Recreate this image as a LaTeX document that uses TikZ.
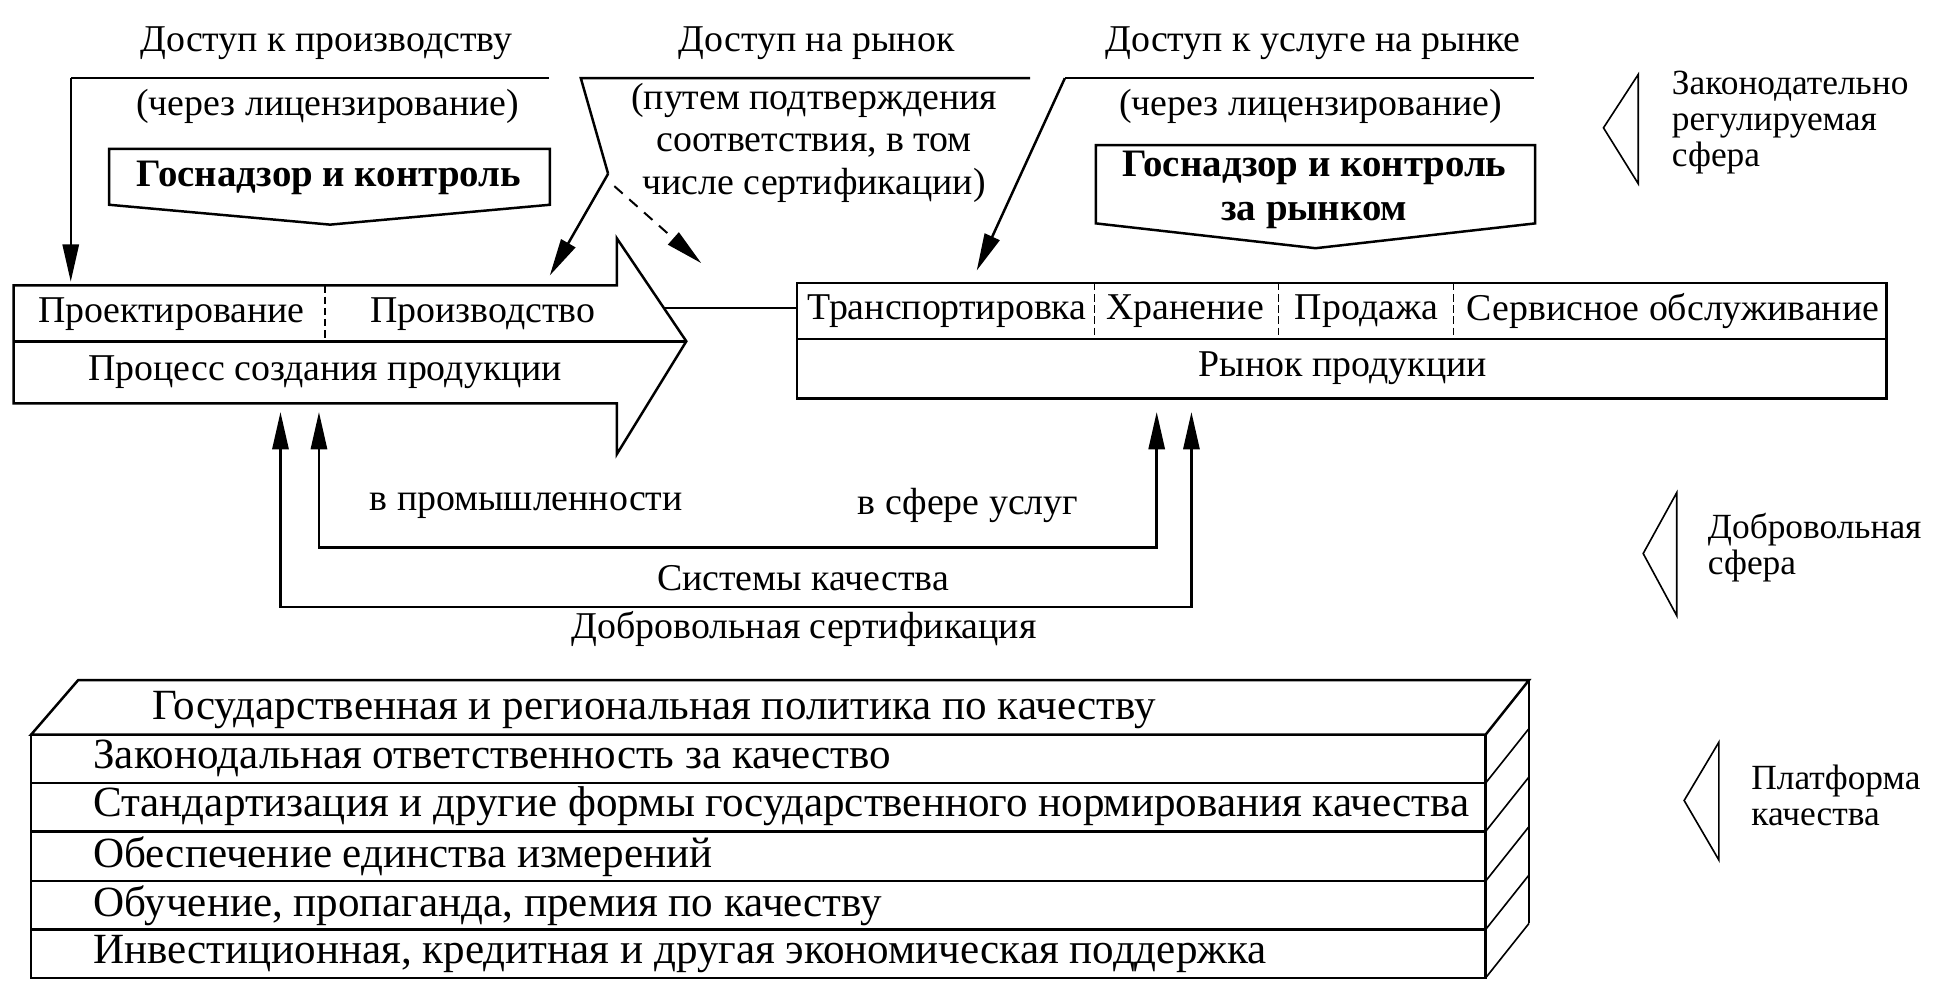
\documentclass[tikz,border=0pt]{standalone}
\usepackage{fontspec}
\setmainfont{Liberation Serif}
\usetikzlibrary{arrows.meta}
\begin{document}
\begin{tikzpicture}[x=1pt,y=-1pt,
  lbl/.style={inner sep=0pt,font=\fontsize{30.5}{34.5}\selectfont,align=center},
  blbl/.style={inner sep=0pt,font=\fontsize{31.3}{35}\selectfont\bfseries,align=center},
  rowlbl/.style={inner sep=0pt,font=\fontsize{34.7}{40}\selectfont,anchor=west},
  sidelbl/.style={inner sep=0pt,font=\fontsize{28.5}{29}\selectfont,anchor=west,align=left},
  ln/.style={line width=2pt,line join=miter},
  thinln/.style={line width=1.3pt},
  divider/.style={line width=1.2pt,dash pattern=on 6pt off 3pt},
  arr/.style={line width=2pt,-{Triangle[length=30pt,width=13pt]}},
  dasharr/.style={line width=1.6pt,dash pattern=on 9pt off 7pt,-{Triangle[length=30pt,width=13pt]}},
  twoarr/.style={line width=2pt,{Triangle[length=30pt,width=13pt]}-{Triangle[length=30pt,width=13pt]}},
]
\useasboundingbox (0,0) rectangle (1568,794);

% ---------- top headings ----------
\node[lbl] (t1) at (263,35) {Доступ к производству};
\node[lbl] (t2) at (658,35) {Доступ на рынок};
\node[lbl] (t3) at (1058,35) {Доступ к услуге на рынке};

% access to production
\coordinate (l1a) at (442,63);
\coordinate (l1b) at (57,63);
\coordinate (l1tip) at (57,227);
\draw[ln] (l1a) -- (l1b);
\draw[arr] (l1b) -- (l1tip);
\node[lbl] (s1) at (264,86) {(через лицензирование)};
\coordinate (b1a) at (88,120);
\coordinate (b1b) at (443,120);
\coordinate (b1c) at (443,165);
\coordinate (b1d) at (266,181);
\coordinate (b1e) at (88,165);
\draw[ln] (b1a) -- (b1b) -- (b1c) -- (b1d) -- (b1e) -- cycle;
\node[blbl] (g1) at (265,143) {Госнадзор и контроль};

% access to market
\coordinate (l2a) at (830,63);
\coordinate (l2b) at (468,63);
\coordinate (split) at (490,140);
\coordinate (split2) at (495,150);
\coordinate (l2tip) at (443,222);
\coordinate (l2dtip) at (565,212);
\draw[ln] (l2a) -- (l2b) -- (split);
\draw[arr] (split) -- (l2tip);
\draw[dasharr] (split2) -- (l2dtip);
\node[lbl] (s2) at (656,115) {(путем подтверждения\\соответствия, в том\\числе сертификации)};

% access to service
\coordinate (l3a) at (1236,63);
\coordinate (l3b) at (858,63);
\coordinate (l3tip) at (787,218);
\draw[ln] (l3a) -- (l3b);
\draw[arr] (l3b) -- (l3tip);
\node[lbl] (s3) at (1056,86) {(через лицензирование)};
\coordinate (b2a) at (883,117);
\coordinate (b2b) at (1237,117);
\coordinate (b2c) at (1237,180);
\coordinate (b2d) at (1060,200);
\coordinate (b2e) at (883,180);
\draw[ln] (b2a) -- (b2b) -- (b2c) -- (b2d) -- (b2e) -- cycle;
\node[blbl] (g2) at (1059,153) {Госнадзор и контроль\\за рынком};

% ---------- side labels ----------
\coordinate (r1a) at (1320,60);
\coordinate (r1b) at (1292,103);
\coordinate (r1c) at (1320,148);
\draw[thinln] (r1a) -- (r1b) -- (r1c) -- cycle;
\node[sidelbl] (z1) at (1347,99) {Законодательно\\регулируемая\\сфера};

\coordinate (r2a) at (1351,397);
\coordinate (r2b) at (1324,446);
\coordinate (r2c) at (1351,496);
\draw[thinln] (r2a) -- (r2b) -- (r2c) -- cycle;
\node[sidelbl] (z2) at (1376,441) {Добровольная\\сфера};

\coordinate (r3a) at (1385,598);
\coordinate (r3b) at (1357,645);
\coordinate (r3c) at (1385,693);
\draw[thinln] (r3a) -- (r3b) -- (r3c) -- cycle;
\node[sidelbl] (z3) at (1411,641) {Платформа\\качества};

% ---------- production process arrow ----------
\coordinate (pa) at (11,230);
\coordinate (pb) at (497,230);
\coordinate (pc) at (497,192);
\coordinate (ptip) at (553,275);
\coordinate (pd) at (497,366);
\coordinate (pe) at (497,325);
\coordinate (pf) at (11,325);
\coordinate (pm) at (11,275);
\draw[ln] (pa) -- (pb) -- (pc) -- (ptip) -- (pd) -- (pe) -- (pf) -- cycle;
\draw[ln] (pm) -- (ptip);
\draw[divider] (262,230) -- (262,275);
\node[lbl] (proj) at (138,253) {Проектирование};
\node[lbl] (prod) at (389,253) {Производство};
\node[lbl] (proc) at (262,300) {Процесс создания продукции};

% ---------- market box ----------
\coordinate (ma) at (642,228);
\coordinate (mb) at (1520,321);
\draw[ln] (ma) rectangle (mb);
\draw[ln] (642,273) -- (1520,273);
\foreach \x in {882,1030,1171} \draw[divider] (\x,228) -- (\x,273);
\node[lbl] (tr) at (763,251) {Транспортировка};
\node[lbl] (hr) at (955,251) {Хранение};
\node[lbl] (sl) at (1101,251) {Продажа};
\node[lbl] (sv) at (1348,251) {Сервисное обслуживание};
\node[lbl] (rp) at (1082,297) {Рынок продукции};

\coordinate (conA) at (535,248);
\coordinate (conB) at (642,248);
\draw[ln] (conA) -- (conB);

% ---------- voluntary arrows ----------
\coordinate (vo1) at (226,332);
\coordinate (vo2) at (226,489);
\coordinate (vo3) at (960,489);
\coordinate (vo4) at (960,332);
\draw[twoarr] (vo1) -- (vo2) -- (vo3) -- (vo4);
\coordinate (vi1) at (257,332);
\coordinate (vi2) at (257,441);
\coordinate (vi3) at (932,441);
\coordinate (vi4) at (932,332);
\draw[twoarr] (vi1) -- (vi2) -- (vi3) -- (vi4);
\node[lbl] (vp) at (424,407) {в промышленности};
\node[lbl] (vs) at (780,407) {в сфере услуг};
\node[lbl] (sq) at (647,466) {Системы качества};
\node[lbl] (dc) at (648,507) {Добровольная сертификация};

% ---------- quality platform ----------
\coordinate (qa) at (25,592);
\coordinate (qb) at (63,548);
\coordinate (qc) at (1232,548);
\coordinate (qd) at (1197,592);
\coordinate (qe) at (1197,788);
\coordinate (qf) at (25,788);
\coordinate (qg) at (1232,744);
\draw[ln] (qa) -- (qb) -- (qc) -- (qd) -- cycle;
\draw[ln] (qa) -- (qf) -- (qe) -- (qd);
\draw[thinln] (qc) -- (qg);
\foreach \y in {631,670,710,749} \draw[ln] (25,\y) -- (1197,\y);
\foreach \y in {631,670,710,749,788} \draw[thinln] (1197,\y) -- (1232,\y-44);
\node[inner sep=0pt,font=\fontsize{34.7}{40}\selectfont] (q0) at (527,572) {Государственная и региональная политика по качеству};
\node[rowlbl] (q1) at (75,611) {Законодальная ответственность за качество};
\node[rowlbl] (q2) at (75,650) {Стандартизация и другие формы государственного нормирования качества};
\node[rowlbl] (q3) at (75,690) {Обеспечение единства измерений};
\node[rowlbl] (q4) at (75,730) {Обучение, пропаганда, премия по качеству};
\node[rowlbl] (q5) at (75,769) {Инвестиционная, кредитная и другая экономическая поддержка};
\end{tikzpicture}
\end{document}
